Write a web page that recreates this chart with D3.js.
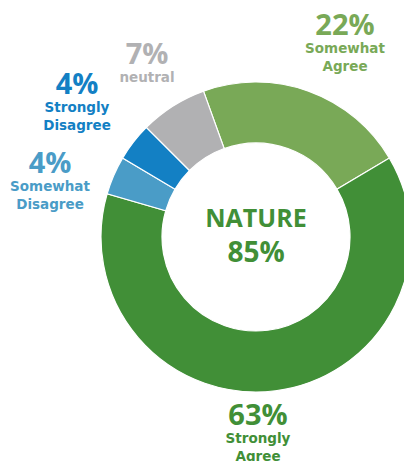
<!DOCTYPE html>
<html>
<head>
<meta charset="utf-8">
<script src="https://cdn.jsdelivr.net/npm/d3@7/dist/d3.min.js"></script>
<style>
  html, body { margin: 0; padding: 0; background: #fff; }
  svg text { font-weight: 700; }
</style>
</head>
<body>
<svg id="chart" width="404" height="461"></svg>
<script>
// Survey responses, clockwise from the top-left of the ring
const categories = ["Somewhat Agree", "Strongly Agree", "Somewhat Disagree", "Strongly Disagree", "neutral"];
const values = [22, 63, 4, 4, 7];
const colors = ["#79a957", "#418f37", "#4a9cc7", "#1380c4", "#b1b1b3"];
const centerTitle = "NATURE";
const centerValue = 85;

// Category names broken into lines, and where each label block sits
const labelLines = [["Somewhat", "Agree"], ["Strongly", "Agree"], ["Somewhat", "Disagree"], ["Strongly", "Disagree"], ["neutral"]];
const labelPos = [[345, 35], [258, 425], [50, 173], [77, 94], [147, 64]];

const svg = d3.select("#chart");
const cx = 256, cy = 237, outerR = 155, innerR = 94;
const start = -19.8 * Math.PI / 180;

const pie = d3.pie().sort(null).value(d => d).startAngle(start).endAngle(start + 2 * Math.PI);
const arc = d3.arc().innerRadius(innerR).outerRadius(outerR);

const g = svg.append("g").attr("transform", `translate(${cx},${cy})`);
g.selectAll("path")
  .data(pie(values))
  .join("path")
  .attr("d", arc)
  .attr("fill", (d, i) => colors[i])
  .attr("stroke", "#fff")
  .attr("stroke-width", 1.2);

// Slice labels: big percent, then the category name beneath, in one text block
const labels = svg.selectAll("text.label")
  .data(values)
  .join("text")
  .attr("class", "label")
  .attr("text-anchor", "middle")
  .attr("fill", (d, i) => colors[i]);

labels.each(function(d, i) {
  const t = d3.select(this);
  const [x, y] = labelPos[i];
  t.append("tspan")
    .attr("x", x).attr("y", y)
    .attr("font-family", "'Open Sans', sans-serif")
    .attr("font-size", 29)
    .text(d + "%");
  labelLines[i].forEach((line, j) => {
    t.append("tspan")
      .attr("x", x).attr("y", y + 18 + j * 17.5)
      .attr("font-family", "'DejaVu Sans', sans-serif")
      .attr("font-size", 13.5)
      .text(line);
  });
});

// Center title
svg.append("text")
  .attr("x", cx).attr("y", 227)
  .attr("text-anchor", "middle")
  .attr("font-family", "'Open Sans', sans-serif")
  .attr("font-size", 25)
  .attr("fill", "#418f37")
  .text(centerTitle);
svg.append("text")
  .attr("x", cx).attr("y", 262)
  .attr("text-anchor", "middle")
  .attr("font-family", "'Open Sans', sans-serif")
  .attr("font-size", 28)
  .attr("fill", "#418f37")
  .text(centerValue + "%");
</script>
</body>
</html>
